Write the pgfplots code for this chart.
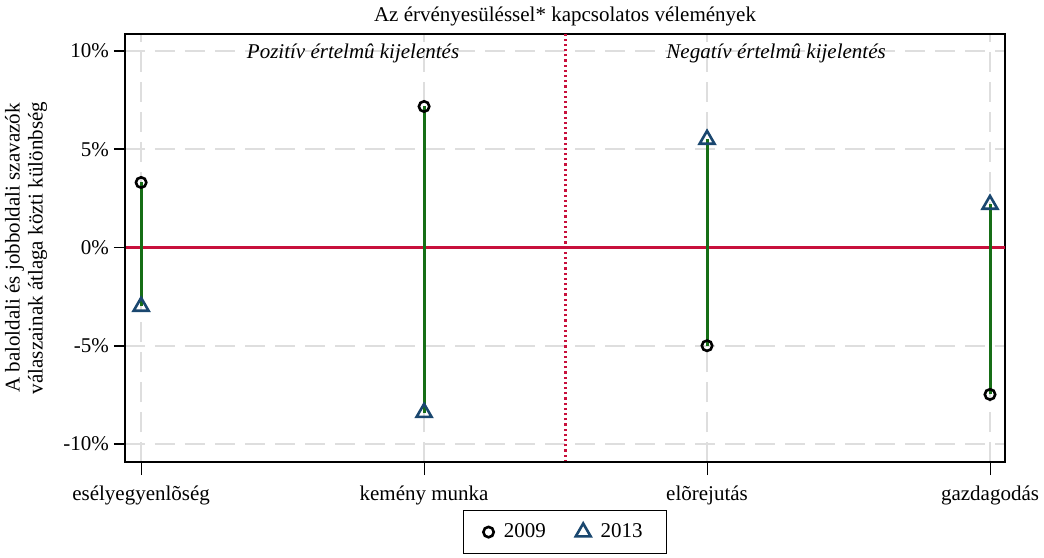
\documentclass[border=0pt]{standalone}
\usepackage{fontspec}
\setmainfont{Liberation Serif}
\usepackage{pgfplots}
\pgfplotsset{compat=1.18}

\definecolor{stemgreen}{RGB}{22,110,22}
\definecolor{zerored}{RGB}{200,16,60}
\definecolor{navy}{RGB}{26,71,111}
\definecolor{gridgray}{RGB}{222,222,222}

\begin{document}
\begin{tikzpicture}
  \begin{axis}[
      name=ax,
      scale only axis,
      width=440pt, height=214pt,
      xmin=-0.057, xmax=3.053, ymin=-10.92, ymax=10.87,
      font=\fontsize{10.5}{12}\selectfont,
      xtick={0,1,2,3},
      xticklabels={esélyegyenlõség, kemény munka, elõrejutás, gazdagodás},
      ytick={-10,-5,0,5,10},
      yticklabels={-10\%,-5\%,0\%,5\%,10\%},
      tick align=outside, tick pos=left,
      major tick length=5.5pt,
      xtick style={line width=0.5pt, black, /pgfplots/major tick length=6.5pt},
      ytick style={line width=0.8pt, black},
      xticklabel style={yshift=-3pt},
      yticklabel style={xshift=1pt},
      grid=major,
      major grid style={gridgray, line width=0.8pt, dash pattern=on 10pt off 5pt},
      axis line style={black, line width=0.6pt},
      legend columns=2,
      legend style={at={(0.5,0)}, anchor=north, yshift=-24pt,
        draw=black, line width=0.6pt, inner xsep=10pt, inner ysep=4.5pt,
        /tikz/every odd column/.append style={column sep=3pt},
        /tikz/every even column/.append style={column sep=13pt},
        font=\fontsize{10.5}{12}\selectfont},
      legend cell align=left,
      clip=false,
    ]
    % reference lines
    \addplot[forget plot, zerored, line width=1.3pt] coordinates {(-0.057,0) (3.053,0)};
    \addplot[forget plot, zerored, line width=1.1pt, dash pattern=on 1.1pt off 1.5pt] coordinates {(1.5,-10.92) (1.5,10.87)};

    % stems between 2009 and 2013
    \addplot[forget plot, stemgreen, line width=1.5pt] coordinates {(0,3.31) (0,-3.0)};
    \addplot[forget plot, stemgreen, line width=1.5pt] coordinates {(1,7.18) (1,-8.4)};
    \addplot[forget plot, stemgreen, line width=1.5pt] coordinates {(2,-5.0) (2,5.5)};
    \addplot[forget plot, stemgreen, line width=1.5pt] coordinates {(3,-7.48) (3,2.19)};

    % 2009
    \addplot[only marks, mark=o, mark size=2.6pt, black, line width=1.3pt]
      coordinates {(0,3.31) (1,7.18) (2,-5.0) (3,-7.48)};
    \addlegendentry{2009}
    % 2013
    \addplot[only marks, mark=triangle, mark size=4.3pt, navy, line width=1.3pt]
      coordinates {(0,-3.0) (1,-8.4) (2,5.5) (3,2.19)};
    \addlegendentry{2013}

    \node[anchor=base, font=\fontsize{10.5}{12}\selectfont\itshape] at (axis cs:0.749,10) [yshift=-3.5pt] {Pozitív értelmû kijelentés};
    \node[anchor=base, font=\fontsize{10.5}{12}\selectfont\itshape] at (axis cs:2.244,10) [yshift=-3.5pt] {Negatív értelmû kijelentés};
  \end{axis}
  \draw[black, line width=1.1pt] (ax.north west) -- (ax.south west) -- (ax.south east);
  \node[anchor=base, font=\fontsize{10.5}{12}\selectfont] at ([yshift=6pt]ax.north) {Az érvényesüléssel* kapcsolatos vélemények};
  \node[rotate=90, align=center, font=\fontsize{10.5}{11.5}\selectfont] at ([xshift=-49.5pt]ax.west)
    {A baloldali és jobboldali szavazók\\válaszainak átlaga közti különbség};
  \pgfresetboundingbox
  \path[use as bounding box] ([xshift=-62.5pt, yshift=-47.5pt]ax.south west) rectangle ([xshift=19.5pt, yshift=17pt]ax.north east);
\end{tikzpicture}
\end{document}
